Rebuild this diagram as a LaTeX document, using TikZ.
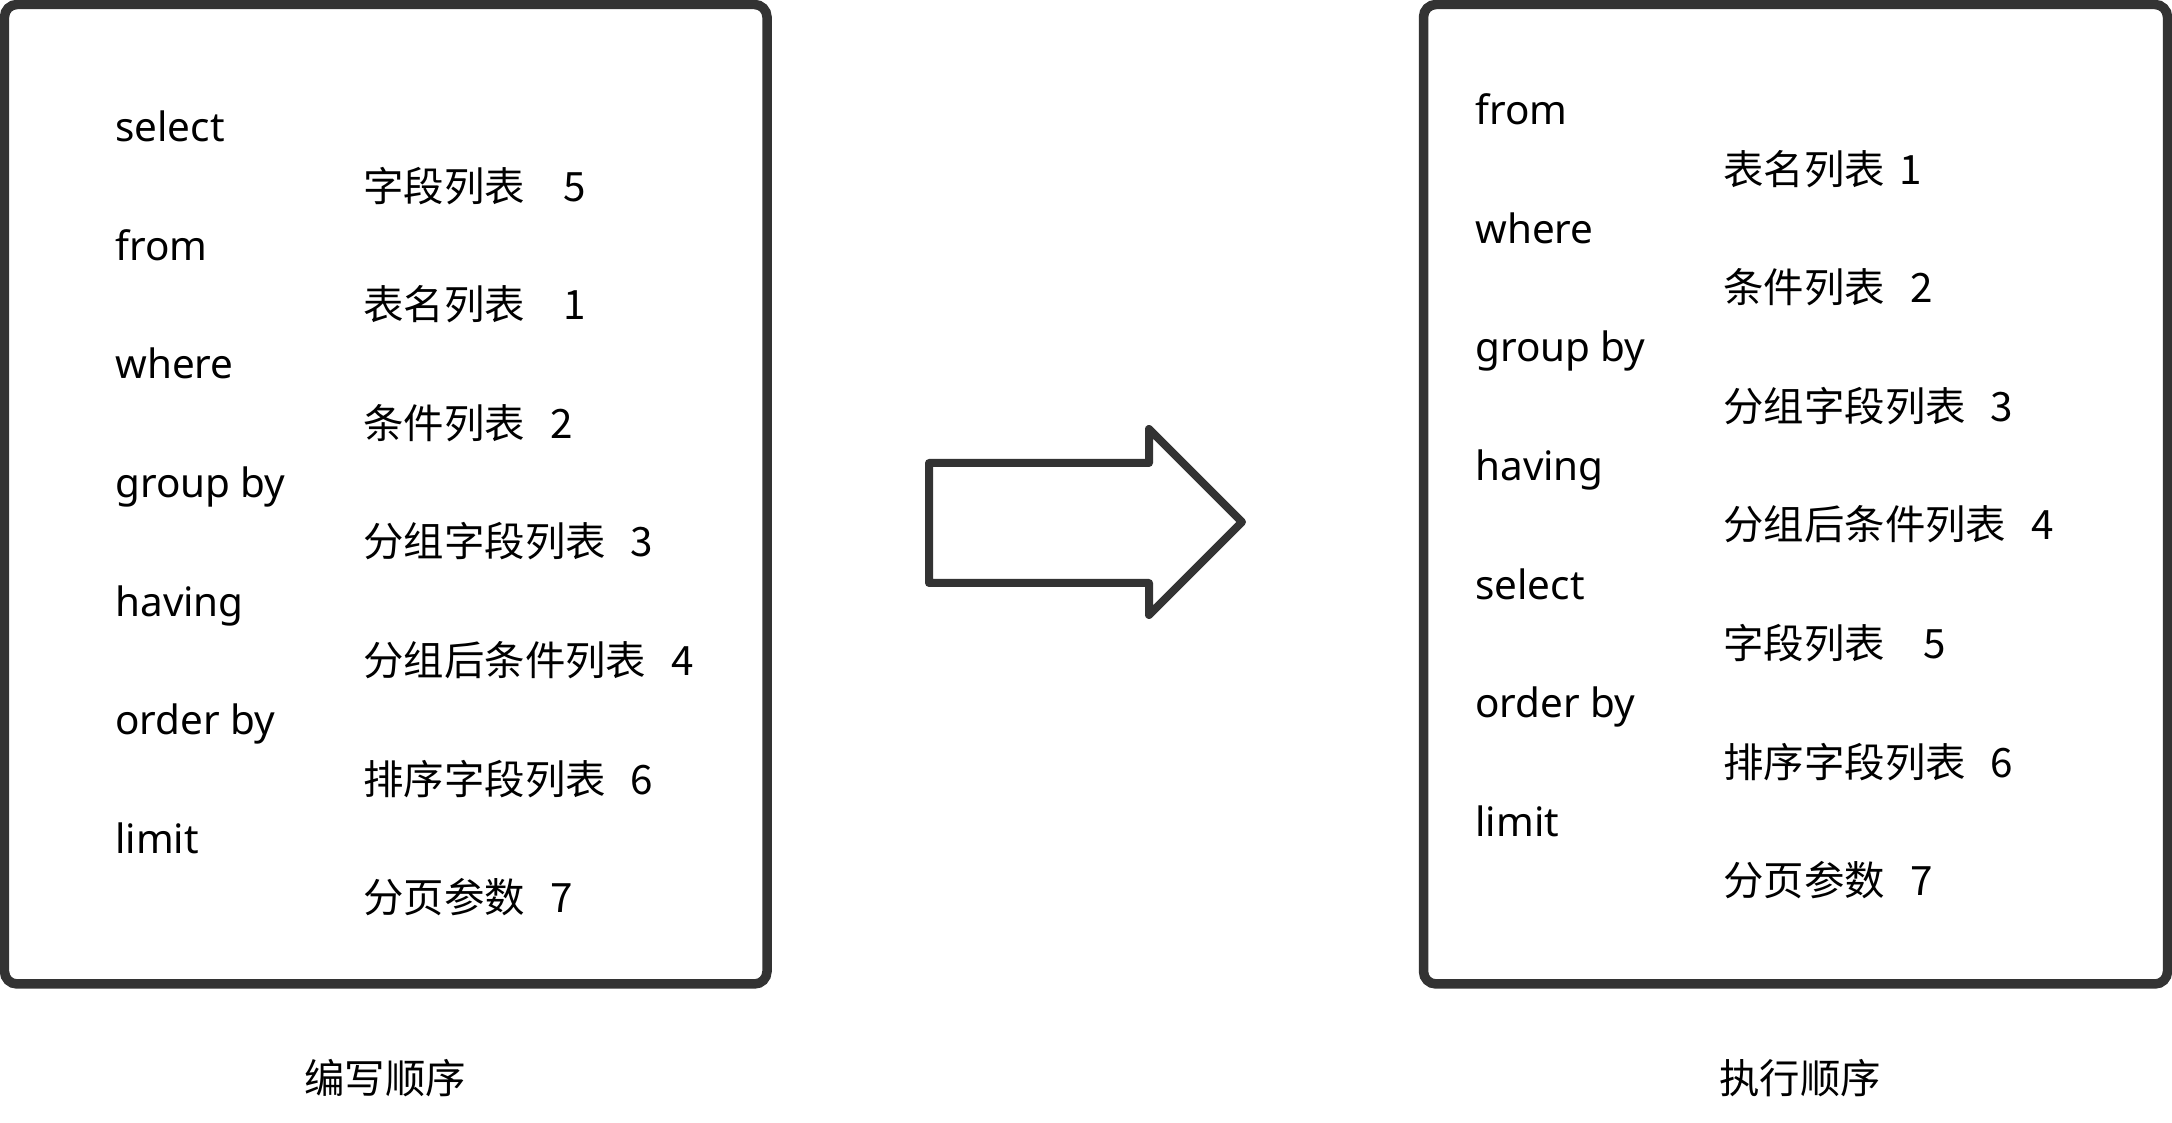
\documentclass[tikz,border=0pt]{standalone}
\usepackage{fontspec}
\setmainfont{Noto Sans}
\newfontfamily\cjk{Noto Sans CJK SC}
\usepackage{tikz}
\usetikzlibrary{positioning}

\definecolor{edge}{HTML}{333333}
\newcommand{\gap}{\hspace{0.62em}}
\newcommand{\wgap}{\hspace{0.95em}}

\begin{document}
\begin{tikzpicture}[
    panel/.style={draw=edge, line width=0.19cm, rounded corners=0.25cm, inner sep=0},
    kw/.style={anchor=base west, inner sep=0, font=\fontsize{23pt}{28pt}\selectfont},
    desc/.style={anchor=base west, inner sep=0, font=\fontsize{23pt}{28pt}\selectfont\cjk},
    caption/.style={font=\fontsize{23pt}{28pt}\selectfont\cjk}
]
\useasboundingbox (0,0) rectangle (43.44,22.46);

% boxes
\node[panel, minimum width=15.25cm, minimum height=19.59cm] (write) at (7.715,12.575) {};
\node[panel, minimum width=14.88cm, minimum height=19.59cm] (exec) at (35.91,12.575) {};

% written order
\node[kw] (wsel) at (2.30,19.62) {select};
\node[desc] (wfld) at (7.26,18.43) {字段列表\wgap 5};
\node[kw] (wfrom) at (2.30,17.25) {from};
\node[desc] (wtab) at (7.26,16.06) {表名列表\wgap 1};
\node[kw] (wwhere) at (2.30,14.88) {where};
\node[desc] (wcond) at (7.26,13.69) {条件列表\gap 2};
\node[kw] (wgroup) at (2.30,12.50) {group by};
\node[desc] (wgfld) at (7.26,11.32) {分组字段列表\gap 3};
\node[kw] (whav) at (2.30,10.13) {having};
\node[desc] (whcond) at (7.26,8.95) {分组后条件列表\gap 4};
\node[kw] (word) at (2.30,7.76) {order by};
\node[desc] (wofld) at (7.26,6.57) {排序字段列表\gap 6};
\node[kw] (wlim) at (2.30,5.39) {limit};
\node[desc] (wpage) at (7.26,4.20) {分页参数\gap 7};

% execution order
\node[kw] (efrom) at (29.50,19.96) {from};
\node[desc] (etab) at (34.46,18.77) {表名列表\hspace{0.35em}1};
\node[kw] (ewhere) at (29.50,17.59) {where};
\node[desc] (econd) at (34.46,16.40) {条件列表\gap 2};
\node[kw] (egroup) at (29.50,15.22) {group by};
\node[desc] (egfld) at (34.46,14.03) {分组字段列表\gap 3};
\node[kw] (ehav) at (29.50,12.84) {having};
\node[desc] (ehcond) at (34.46,11.66) {分组后条件列表\gap 4};
\node[kw] (esel) at (29.50,10.47) {select};
\node[desc] (efld) at (34.46,9.29) {字段列表\wgap 5};
\node[kw] (eord) at (29.50,8.10) {order by};
\node[desc] (eofld) at (34.46,6.91) {排序字段列表\gap 6};
\node[kw] (elim) at (29.50,5.73) {limit};
\node[desc] (epage) at (34.46,4.54) {分页参数\gap 7};

% captions
\node[caption] (wcap) at (7.70,0.90) {编写顺序};
\node[caption] (ecap) at (36.00,0.90) {执行顺序};

% block arrow
\draw[edge, line width=0.16cm, line join=round]
    (18.58,13.20) -- (22.98,13.20) -- (22.98,13.88) -- (24.84,12.02)
    -- (22.98,10.16) -- (22.98,10.80) -- (18.58,10.80) -- cycle;
\end{tikzpicture}
\end{document}
